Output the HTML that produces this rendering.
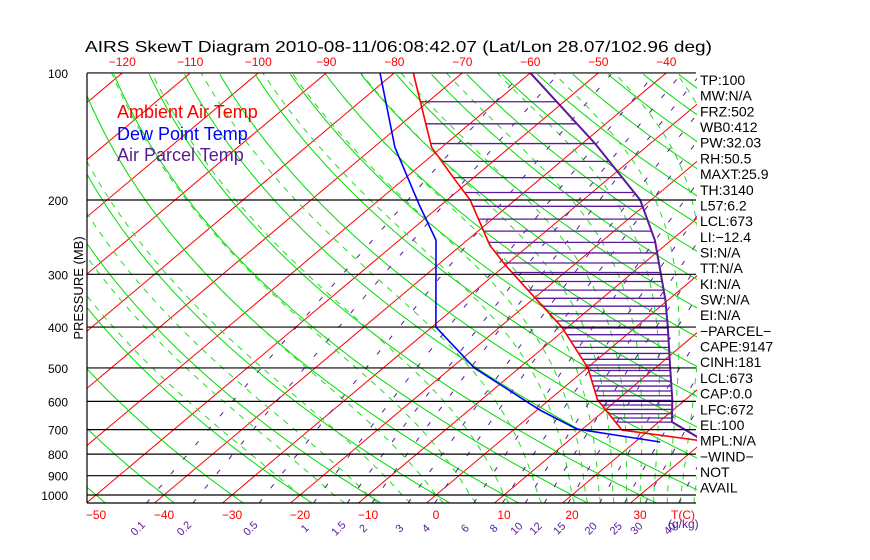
<!DOCTYPE html>
<html><head><meta charset="utf-8"><style>
html,body{margin:0;padding:0;background:#fff;}
svg{display:block;font-family:"Liberation Sans",sans-serif;}
</style></head><body>
<svg id="chart" width="870" height="560" viewBox="0 0 870 560" xmlns="http://www.w3.org/2000/svg">
<defs><clipPath id="plotclip"><rect x="87" y="73" width="610" height="430"/></clipPath></defs>
<rect width="870" height="560" fill="#fff"/>
<text x="85" y="52" font-size="16" textLength="627" lengthAdjust="spacingAndGlyphs">AIRS SkewT Diagram 2010-08-11/06:08:42.07 (Lat/Lon 28.07/102.96 deg)</text>
<g id="grid" clip-path="url(#plotclip)"></g>
<g id="axes"></g>
<g id="labels"></g>
<text x="117" y="118" font-size="18" fill="#ff0000">Ambient Air Temp</text>
<text x="117" y="140" font-size="18" fill="#0000ff">Dew Point Temp</text>
<text x="117" y="161" font-size="18" fill="#5a1a9a">Air Parcel Temp</text>
<text transform="translate(83,288) rotate(-90)" text-anchor="middle" font-size="13">PRESSURE (MB)</text>
</svg>
<script>
// ---- data ----
const pressureLevels = [100,200,300,400,500,600,700,800,900,1000];
const isotherms = [-150,-140,-130,-120,-110,-100,-90,-80,-70,-60,-50,-40,-30,-20,-10,0,10,20,30,40,50];
const topTempTicks = [-120,-110,-100,-90,-80,-70,-60,-50,-40];
const bottomTempTicks = [-50,-40,-30,-20,-10,0,10,20,30];
const dryAdiabatsC = [-60,-50,-40,-30,-20,-10,0,10,20,30,40,50,60,70,80,90,100,110,120,130,140,150,160,170,180];
const moistAdiabatsC = [-20,-15,-10,-5,0,5,10,15,20,22,24,26,28,30,32,34,36,38,40];
const mixingRatios = [0.1,0.2,0.5,1,1.5,2,3,4,6,8,10,12,15,20,25,30,40];
const mixingRatioLabels = ["0.1","0.2","0.5","1","1.5","2","3","4","6","8","10","12","15","20","25","30","40"];
const envP = [100,150,179,200,256,285,345,400,500,595,702,741,760];
const envT = [-77.2,-61.5,-52.4,-46.6,-35.8,-30.1,-19.3,-10.9,0.1,7.1,16.0,28.7,31];
const dewP = [100,150,206,249,400,500,629,698,749];
const dewT = [-82.1,-66.9,-53.1,-44.6,-29.4,-16.6,0.4,9.2,23.7];
const parcelP = [100,147,200,249,345,400,500,595,671,725,760];
const parcelT = [-60,-38.1,-21.6,-12.4,-0.4,4.7,12.2,18.1,21.9,27.9,31];
const statLabels = ["TP:100","MW:N/A","FRZ:502","WB0:412","PW:32.03","RH:50.5","MAXT:25.9","TH:3140","L57:6.2","LCL:673","LI:\u221212.4","SI:N/A","TT:N/A","KI:N/A","SW:N/A","EI:N/A","\u2212PARCEL\u2212","CAPE:9147","CINH:181","LCL:673","CAP:0.0","LFC:672","EL:100","MPL:N/A","\u2212WIND\u2212","NOT","AVAIL"];

// ---- axes ----
function Y(p){return 495+183.3*Math.log(p/1000);}
function X(T,p){return 436+6.8*T+1.19*(495-Y(p));}
const NS="http://www.w3.org/2000/svg";
const grid=document.getElementById('grid'), axes=document.getElementById('axes'), labels=document.getElementById('labels');
function mk(tag,attrs,parent){const e=document.createElementNS(NS,tag);for(const k in attrs)e.setAttribute(k,attrs[k]);parent.appendChild(e);return e;}
function poly(pts){return pts.map(q=>q[0].toFixed(1)+','+q[1].toFixed(1)).join(' ');}
const PTOP=100,PBOT=1046;
function pList(){const a=[];for(let lp=Math.log(PBOT);lp>=Math.log(PTOP)-0.001;lp-=0.02)a.push(Math.exp(lp));return a;}
function interp(ps,ts,p){const lp=Math.log(p);for(let i=0;i<ps.length-1;i++){const a=Math.log(ps[i]),b=Math.log(ps[i+1]);if(lp>=a&&lp<=b){return ts[i]+(ts[i+1]-ts[i])*(lp-a)/(b-a);}}return null;}

isotherms.forEach(T=>{
  const l=mk('line',{x1:X(T,PBOT),y1:Y(PBOT),x2:X(T,PTOP),y2:Y(PTOP),stroke:'#ff0000','stroke-width':1},grid);
  
  
});
dryAdiabatsC.forEach(th=>{
  const TK=th+273.15;
  const pts=pList().map(p=>[X(TK*Math.pow(p/1000,0.2857)-273.15,p),Y(p)]);
  const l=mk('polyline',{points:poly(pts),fill:'none',stroke:'#00dd00','stroke-width':1},grid);
  
  
});
function es(T){return 6.112*Math.exp(17.67*T/(T+243.5));}
function moist(T0){
  const Rd=287,cp=1004,L=2.5e6,eps=0.622;
  function dTdlnp(T,p){const TK=T+273.15;const rs=eps*es(T)/(p-es(T));return (Rd*TK+L*rs)/(cp+L*L*rs*eps/(Rd*TK*TK));}
  const pts=[];let T=T0,lp=Math.log(1000);const h=-0.01;
  let Td=T0;for(let l=Math.log(1000);l<Math.log(PBOT);l+=0.01){Td+=dTdlnp(Td,Math.exp(l))*0.01;}
  pts.push([X(Td,PBOT),Y(PBOT)]);
  while(lp>Math.log(PTOP)){const p=Math.exp(lp);pts.push([X(T,p),Y(p)]);T+=dTdlnp(T,p)*h;lp+=h;}
  return pts;
}
moistAdiabatsC.forEach(t=>{
  const l=mk('polyline',{points:poly(moist(t)),fill:'none',stroke:'#22dd22','stroke-width':1,'stroke-dasharray':'6,6'},grid);
  
  
});
function tdFromW(w,p){const e=w*p/(622+w);const g=Math.log(e/6.112);return 243.5*g/(17.67-g);}
mixingRatios.forEach(w=>{
  const pts=pList().map(p=>[X(tdFromW(w,p),p),Y(p)]);
  const l=mk('polyline',{points:poly(pts),fill:'none',stroke:'#5a1a9a','stroke-width':1,'stroke-dasharray':'5,14'},grid);
  
  
});
for(let p=117;p<=672;p+=15){
  const te=interp(envP,envT,p),tp=interp(parcelP,parcelT,p);
  if(te===null||tp===null||tp<=te)continue;
  const l=mk('line',{x1:X(te,p),y1:Y(p),x2:X(tp,p),y2:Y(p),stroke:'#5a1a9a','stroke-width':1.3},grid);
  
  
}
pressureLevels.forEach(p=>{
  const l=mk('line',{x1:87,y1:Y(p),x2:696,y2:Y(p),stroke:'#000','stroke-width':1.2},axes);
  
  
  const t=mk('text',{x:68,y:Y(p)+5,'text-anchor':'end','font-size':12},labels);
  t.textContent=p;
  
  
});
const bl=mk('line',{x1:87,y1:503,x2:696,y2:503,stroke:'#000','stroke-width':1.2},axes);


const ll=mk('line',{x1:87,y1:73,x2:87,y2:503,stroke:'#000','stroke-width':1.2},axes);


function drawProfile(ps,ts,color,name,w){
  const pts=ps.map((p,i)=>[X(ts[i],p),Y(p)]);
  const l=mk('polyline',{points:poly(pts),fill:'none',stroke:color,'stroke-width':w},grid);
  
  
}
drawProfile(parcelP,parcelT,'#5a1a9a','parcel-temp-line',2);
drawProfile(dewP,dewT,'#0000ff','dew-point-line',1.6);
drawProfile(envP,envT,'#ff0000','ambient-temp-line',1.6);
topTempTicks.forEach(T=>{
  const t=mk('text',{x:X(T,100),y:66,'text-anchor':'middle','font-size':12,fill:'#ff0000'},labels);
  t.textContent=String(T).replace('-','\u2212');
  
  
});
bottomTempTicks.forEach(T=>{
  const t=mk('text',{x:X(T,1000),y:519,'text-anchor':'middle','font-size':12,fill:'#ff0000'},labels);
  t.textContent=String(T).replace('-','\u2212');
  
  
});
const tc=mk('text',{x:683,y:519,'text-anchor':'middle','font-size':12,fill:'#ff0000'},labels);
tc.textContent='T(C)';


mixingRatios.forEach((w,i)=>{
  const x=X(tdFromW(w,1046),1046)-6;
  const t=mk('text',{transform:'translate('+x.toFixed(1)+',531) rotate(-45)','text-anchor':'middle','font-size':11,fill:'#5a1a9a'},labels);
  t.textContent=mixingRatioLabels[i];
  
  
});
const wu=mk('text',{x:668,y:528,'font-size':12,fill:'#5a1a9a'},labels);
wu.textContent='(g/kg)';


statLabels.forEach((s,i)=>{
  const t=mk('text',{x:700,y:85+15.68*i,'font-size':14,fill:'#000'},labels);
  t.textContent=s;
  
  
});
</script>
</body></html>
